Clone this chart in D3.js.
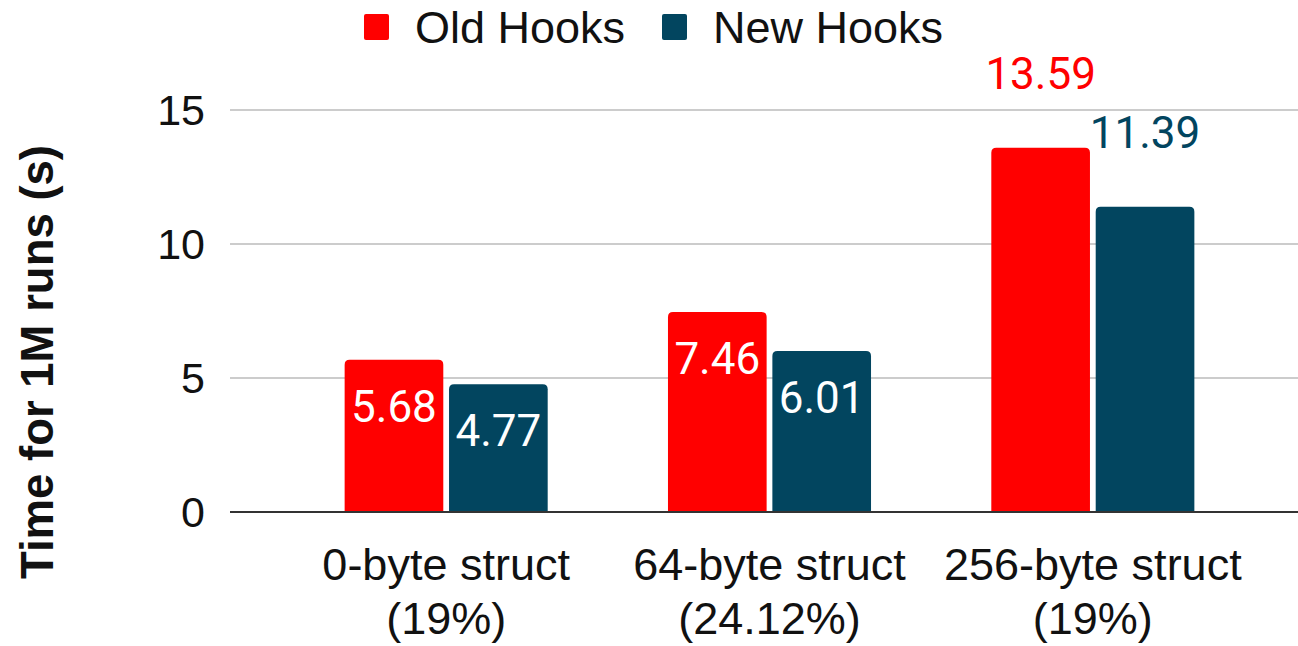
<!DOCTYPE html>
<html>
<head>
<meta charset="utf-8">
<script src="https://cdn.jsdelivr.net/npm/d3@7"></script>
<style>
  body { margin: 0; background: #fff; }
  svg { display: block; }
</style>
</head>
<body>
<script>
const categories = ['0-byte struct|(19%)', '64-byte struct|(24.12%)', '256-byte struct|(19%)']
const seriesNames = ['Old Hooks', 'New Hooks']
const oldHooks = [5.68, 7.46, 13.59]
const newHooks = [4.77, 6.01, 11.39]
const yTicks = [0, 5, 10, 15]

// style bits, not data
const colors = { 'Old Hooks': '#ff0000', 'New Hooks': '#02455f' }
const labelsOutside = [false, false, true]

let width = 1298
let height = 646

const svg = d3.select('body')
  .append('svg')
  .attr('width', width)
  .attr('height', height)

const rows = categories.map((c, i) => ({
  cat: c,
  idx: i,
  vals: [
    { key: 'Old Hooks', value: oldHooks[i] },
    { key: 'New Hooks', value: newHooks[i] }
  ]
}))

const y = d3.scaleLinear()
  .domain([0, 15])
  .range([512, 110])

const x0 = d3.scaleBand()
  .domain(categories)
  .range([284.5, 1254.5])
  .paddingInner(0.372)
  .paddingOuter(0.186)

const x1 = d3.scaleBand()
  .domain(seriesNames)
  .range([0, x0.bandwidth()])
  .paddingInner(0.055)

// gridlines
svg.append('g')
  .selectAll('line')
  .data(yTicks.filter(d => d > 0))
  .join('line')
  .attr('x1', 230)
  .attr('x2', width)
  .attr('y1', d => y(d))
  .attr('y2', d => y(d))
  .style('stroke', '#cccccc')
  .style('stroke-width', 2)

// y tick labels
svg.append('g')
  .selectAll('text')
  .data(yTicks)
  .join('text')
  .attr('x', 205)
  .attr('y', d => y(d))
  .attr('dy', '0.36em')
  .attr('text-anchor', 'end')
  .attr('font-family', 'Liberation Sans, Arial, sans-serif')
  .attr('font-size', '43px')
  .attr('fill', '#111')
  .text(d => d)

// bars with rounded tops
function barPath(x, yTop, w, h, r) {
  r = Math.min(r, h, w / 2)
  return `M${x},${yTop + h}V${yTop + r}Q${x},${yTop} ${x + r},${yTop}H${x + w - r}Q${x + w},${yTop} ${x + w},${yTop + r}V${yTop + h}Z`
}

const groups = svg.append('g')
  .selectAll('g')
  .data(rows)
  .join('g')
  .attr('transform', d => `translate(${x0(d.cat)},0)`)

groups.selectAll('path')
  .data(d => d.vals)
  .join('path')
  .attr('d', d => barPath(x1(d.key), y(d.value), x1.bandwidth(), y(0) - y(d.value), 5))
  .style('fill', d => colors[d.key])

// value labels
groups.each(function (row) {
  d3.select(this).selectAll('text')
    .data(row.vals)
    .join('text')
    .attr('x', d => x1(d.key) + x1.bandwidth() / 2)
    .attr('y', d => labelsOutside[row.idx] ? y(d.value) - 59 : y(d.value) + 62)
    .attr('text-anchor', 'middle')
    .attr('font-family', 'Roboto, sans-serif')
    .attr('font-size', '44px')
    .attr('fill', d => labelsOutside[row.idx] ? colors[d.key] : '#ffffff')
    .text(d => d.value.toFixed(2))
})

// baseline
svg.append('line')
  .attr('x1', 230)
  .attr('x2', width)
  .attr('y1', y(0))
  .attr('y2', y(0))
  .style('stroke', '#333')
  .style('stroke-width', 2)

// category labels, two lines
const catText = svg.append('g')
  .selectAll('text')
  .data(categories)
  .join('text')
  .attr('x', d => x0(d) + x0.bandwidth() / 2)
  .attr('y', 580)
  .attr('text-anchor', 'middle')
  .attr('font-family', 'Liberation Sans, Arial, sans-serif')
  .attr('font-size', '45px')
  .attr('fill', '#111')

catText.selectAll('tspan')
  .data(d => d.split('|'))
  .join('tspan')
  .attr('x', function () { return d3.select(this.parentNode).attr('x') })
  .attr('dy', (d, i) => i === 0 ? 0 : 54)
  .text(d => d)

// axis title
svg.append('text')
  .attr('transform', 'translate(53,362) rotate(-90)')
  .attr('text-anchor', 'middle')
  .attr('font-family', 'Liberation Sans, Arial, sans-serif')
  .attr('font-weight', 'bold')
  .attr('font-size', '45.5px')
  .attr('fill', '#111')
  .text('Time for 1M runs (s)')

// legend
const legendX = [364, 662]
const legend = svg.append('g')
  .selectAll('g')
  .data(seriesNames)
  .join('g')
  .attr('transform', (d, i) => `translate(${legendX[i]},14)`)

legend.append('rect')
  .attr('width', 25)
  .attr('height', 26)
  .attr('rx', 2)
  .style('fill', d => colors[d])

legend.append('text')
  .attr('x', 51)
  .attr('y', 29)
  .attr('font-family', 'Liberation Sans, Arial, sans-serif')
  .attr('font-size', '45px')
  .attr('fill', '#111')
  .text(d => d)
</script>
</body>
</html>
